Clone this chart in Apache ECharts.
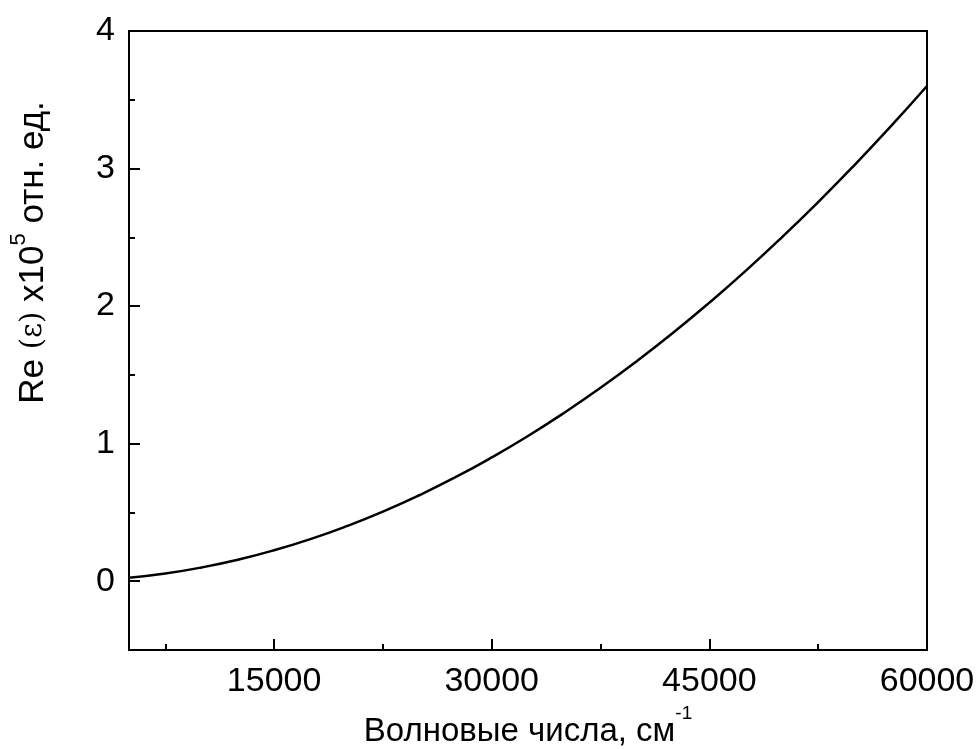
<!DOCTYPE html>
<html>
<head>
<meta charset="utf-8">
<script src="https://cdn.jsdelivr.net/npm/echarts@6/dist/echarts.min.js"></script>
<style>
  html, body { margin: 0; padding: 0; background: #fff; }
  #chart { width: 979px; height: 749px; }
</style>
</head>
<body>
<div id="chart"></div>
<script>
// Wavenumber (cm^-1) and real part of permittivity (x10^5, rel. units)
const wavenumbers = [5000, 7500, 10000, 12500, 15000, 17500, 20000, 22500, 25000, 27500,
  30000, 32500, 35000, 37500, 40000, 42500, 45000, 47500, 50000, 52500, 55000, 57500, 60000];
const reEps = [0.025, 0.056, 0.10, 0.156, 0.225, 0.306, 0.40, 0.506, 0.625, 0.756,
  0.90, 1.056, 1.225, 1.406, 1.60, 1.806, 2.025, 2.256, 2.50, 2.756, 3.025, 3.306, 3.60];

const xMajorTicks = [15000, 30000, 45000, 60000];
const xMinorTicks = [7500, 22500, 37500, 52500];
const yMajorTicks = [0, 1, 2, 3, 4];
const yMinorTicks = [0.5, 1.5, 2.5, 3.5];

const FONT = '"Liberation Sans", Arial, sans-serif';
const X_MIN = 5000, X_MAX = 60000, Y_MIN = -0.5, Y_MAX = 4;

const chart = echarts.init(document.getElementById('chart'), null, { renderer: 'canvas' });

const axisLineStyle = { color: '#000', width: 2 };
const plain = v => String(v);

chart.setOption({
  animation: false,
  backgroundColor: '#fff',
  grid: {
    left: 129, right: 52, top: 31, bottom: 99,
    outerBoundsMode: 'none',
    containLabel: false,
    show: true, borderColor: '#000', borderWidth: 2, backgroundColor: 'transparent'
  },
  xAxis: [
    {
      type: 'value', min: X_MIN, max: X_MAX,
      splitLine: { show: false },
      axisLine: { onZero: false, lineStyle: axisLineStyle },
      axisTick: { inside: true, length: 11, lineStyle: { width: 2, color: '#000' }, customValues: xMajorTicks },
      axisLabel: { customValues: xMajorTicks, formatter: plain, color: '#000', fontFamily: FONT, fontSize: 34, margin: 15, showMaxLabel: true },
      name: '{n|Волновые числа, см}{sup|-1}',
      nameLocation: 'middle',
      nameGap: 32,
      nameTextStyle: {
        color: '#000', fontFamily: FONT, fontSize: 33,
        rich: {
          // baseline text is pushed down so the exponent sits above it
          n: { fontFamily: FONT, fontSize: 33, color: '#000', padding: [12, 0, 0, 0] },
          sup: { fontFamily: FONT, fontSize: 19, color: '#000', verticalAlign: 'top' }
        }
      }
    },
    {
      type: 'value', min: X_MIN, max: X_MAX, gridIndex: 0, position: 'bottom',
      splitLine: { show: false },
      axisLine: { show: false, onZero: false },
      axisTick: { inside: true, length: 6, lineStyle: { width: 2, color: '#000' }, customValues: xMinorTicks },
      axisLabel: { show: false }
    }
  ],
  yAxis: [
    {
      type: 'value', min: Y_MIN, max: Y_MAX,
      splitLine: { show: false },
      axisLine: { onZero: false, lineStyle: axisLineStyle },
      axisTick: { inside: true, length: 11, lineStyle: { width: 2, color: '#000' }, customValues: yMajorTicks },
      axisLabel: { customValues: yMajorTicks, formatter: plain, color: '#000', fontFamily: FONT, fontSize: 34, margin: 14 },
      name: '{n|Re }{eps|(ε)}{n| x10}{sup|5}{n| отн. ед.}',
      nameLocation: 'middle',
      nameGap: 78,
      nameTextStyle: {
        color: '#000', fontFamily: FONT, fontSize: 35, padding: [0, 0, 0, 176],
        rich: {
          n: { fontFamily: FONT, fontSize: 35, color: '#000', padding: [8, 0, 0, 0] },
          eps: { fontFamily: '"DejaVu Serif", serif', fontSize: 29, color: '#000', padding: [8, 0, 0, 0] },
          sup: { fontFamily: FONT, fontSize: 22, color: '#000', verticalAlign: 'top' }
        }
      }
    },
    {
      type: 'value', min: Y_MIN, max: Y_MAX, gridIndex: 0, position: 'left',
      splitLine: { show: false },
      axisLine: { show: false, onZero: false },
      axisTick: { inside: true, length: 6, lineStyle: { width: 2, color: '#000' }, customValues: yMinorTicks },
      axisLabel: { show: false }
    }
  ],
  series: [
    {
      type: 'line',
      xAxisIndex: 0, yAxisIndex: 0,
      data: wavenumbers.map((w, i) => [w, reEps[i]]),
      smooth: true,
      showSymbol: false,
      lineStyle: { color: '#000', width: 2.5 },
      clip: true
    }
  ]
});
</script>
</body>
</html>
